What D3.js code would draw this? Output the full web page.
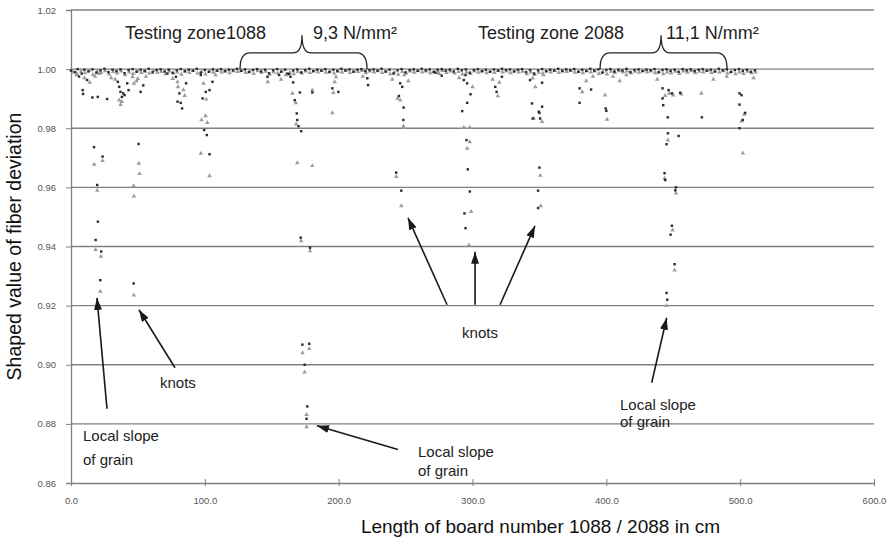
<!DOCTYPE html>
<html>
<head>
<meta charset="utf-8">
<script src="https://cdn.jsdelivr.net/npm/d3@7"></script>
<style>
  body { margin: 0; background: #fff; }
  svg { display: block; font-family: "Liberation Sans", Arial, sans-serif; }
</style>
</head>
<body>
<div id="chart"></div>
<script>
// axis ticks
var xTicks = [0, 100, 200, 300, 400, 500, 600];
var yTicks = [0.86, 0.88, 0.90, 0.92, 0.94, 0.96, 0.98, 1.00, 1.02];

// board 1088 / 2088 : [position cm, shaped value]
// near-1.00 band, dark markers
var band1088 = [[0,0.9995],[3,0.9990],[5,1.0000],[8,0.9985],[10,0.9998],[13,0.9992],[16,0.9999],[19,0.9988],[22,0.9996],[25,1.0001],[28,0.9990],[31,0.9998],[34,0.9993],[37,0.9999],[40,0.9986],[43,0.9997],[46,1.0000],[49,0.9991],[52,0.9998],[55,0.9994],[58,1.0001],[61,0.9989],[64,0.9997],[67,0.9999],[70,0.9992],[73,0.9998],[76,0.9987],[79,0.9996],[82,1.0000],[85,0.9993],[88,0.9998],[91,0.9995],[94,1.0001],[97,0.9988],[100,0.9997],[103,0.9991],[106,0.9999],[109,0.9995],[112,1.0000],[115,0.9993],[118,0.9998],[121,0.9996],[124,1.0001],[127,0.9994],[130,0.9999],[133,0.9990],[136,0.9997],[139,1.0000],[142,0.9992],[145,0.9998],[148,0.9986],[151,0.9996],[154,1.0000],[157,0.9991],[160,0.9998],[163,0.9983],[166,0.9995],[169,0.9999],[172,0.9989],[175,0.9997],[178,1.0001],[181,0.9993],[184,0.9998],[187,0.9995],[190,1.0000],[193,0.9990],[196,0.9998],[199,0.9994],[202,1.0001],[205,0.9996],[208,0.9999],[211,0.9991],[214,0.9998],[217,1.0000],[220,0.9993],[223,0.9997],[226,0.9999],[229,0.9995],[232,1.0001],[235,0.9992],[238,0.9998],[241,0.9985],[244,0.9996],[247,1.0000],[250,0.9989],[253,0.9997],[256,0.9999],[259,0.9994],[262,1.0001],[265,0.9996],[268,0.9999],[271,0.9990],[274,0.9998],[277,1.0000],[280,0.9995],[283,0.9998],[286,0.9992],[289,1.0001],[292,0.9996],[295,0.9999],[298,0.9988],[301,0.9997],[304,1.0000],[307,0.9993],[310,0.9998],[313,0.9991],[316,0.9999],[319,0.9995],[322,1.0001],[325,0.9997],[328,0.9999],[331,0.9992],[334,0.9998],[337,1.0000],[340,0.9990],[343,0.9997],[346,0.9985],[349,0.9996],[352,1.0000],[355,0.9993],[358,0.9998],[361,0.9995],[364,1.0001],[367,0.9994],[370,0.9999],[373,0.9996],[376,1.0000],[379,0.9991],[382,0.9998],[385,0.9994],[388,1.0001],[391,0.9995],[394,0.9999],[397,0.9988],[400,0.9997],[403,1.0000],[406,0.9992],[409,0.9998],[412,0.9995],[415,1.0001],[418,0.9990],[421,0.9997],[424,0.9999],[427,0.9993],[430,0.9998],[433,0.9996],[436,1.0000],[439,0.9989],[442,0.9997],[445,0.9999],[448,0.9994],[451,0.9998],[454,0.9991],[457,1.0000],[460,0.9996],[463,0.9999],[466,0.9993],[469,0.9998],[472,1.0000],[475,0.9995],[478,0.9998],[481,0.9992],[484,1.0001],[487,0.9996],[490,0.9999],[493,0.9990],[496,0.9997],[499,1.0000],[502,0.9994],[505,0.9998],[508,0.9991],[511,0.9996]];

// deviations below the band, dark markers
var dips1088 = [[6,0.9975],[8.7,0.9929],[9,0.9916],[16,0.9904],[12,0.9963],[20,0.9906],[27,0.9899],[35,0.9957],[36,0.9940],[37,0.9923],[38,0.9906],[39,0.9918],[40,0.9912],[42,0.9952],[43,0.9929],[52,0.9923],[54,0.9945],
  [17.2,0.9736],[23.6,0.9704],[50.5,0.9747],[19.6,0.9608],[20.1,0.9484],[18.4,0.9422],[22.6,0.9383],[21.9,0.9286],[46.8,0.9275],
  [72,0.9985],[78.4,0.9974],[79.6,0.9890],[81,0.9918],[82,0.9886],[83,0.9867],[86,0.9952],[97,0.9980],[98.3,0.9901],[100.7,0.9923],[103.5,0.9929],[99.5,0.9794],[101.5,0.9777],[103.5,0.9712],[105.7,0.9957],
  [146.8,0.9974],[155.5,0.9980],[161.7,0.9985],[164,0.9974],[166,0.9955],[171,0.9921],[167.2,0.9895],[168.7,0.9850],[169,0.9828],[170,0.9807],[172,0.9790],[180.3,0.9921],[195.3,0.9935],[199.8,0.9923],[171.6,0.9430],[178.6,0.9396],[172.9,0.9068],[178,0.9071],[174.6,0.9000],[176.6,0.8859],[176,0.8817],
  [221.4,0.9969],[222,0.9946],[245,0.9909],[246,0.9952],[247.5,0.9940],[248.5,0.9870],[248.3,0.9828],[243,0.9650],[246.8,0.9589],
  [272.4,0.9988],[277,0.9978],[293.5,0.9963],[294.8,0.9980],[296,0.9952],[298.5,0.9915],[296,0.9886],[292.3,0.9858],[295.5,0.9760],[296.5,0.9661],[298,0.9586],[294,0.9512],[294.8,0.9462],[317,0.9940],[318,0.9923],[322,0.9974],
  [343,0.9963],[344.5,0.9884],[345,0.9833],[349.5,0.9856],[350.5,0.9833],[352,0.9873],[350,0.9852],[350,0.9667],[349,0.9589],[349,0.9530],[352,0.9954],[380,0.9935],[388.6,0.9931],[380,0.9886],
  [399.5,0.9867],[400,0.9859],[442,0.9935],[446.5,0.9929],[449,0.9918],[455.2,0.9920],[442,0.9901],[442.5,0.9878],[445.9,0.9837],[446,0.9783],[454,0.9774],[471.4,0.9837],[499.5,0.9918],[501,0.9912],[499.5,0.9880],[503.7,0.9852],[502,0.9828],[499.5,0.9800],
  [445,0.9746],[443.5,0.9648],[444,0.9625],[452,0.9600],[451.5,0.9590],[449,0.9470],[448,0.9440],[451,0.9340],[445,0.9243],[445.5,0.9220]];

// near-1.00 band, grey markers
var band2088 = [[1.5,0.9990],[4.5,0.9984],[7.5,0.9993],[10.5,0.9987],[13.5,0.9995],[16.5,0.9981],[19.5,0.9992],[22.5,0.9988],[25.5,0.9994],[28.5,0.9983],[31.5,0.9991],[34.5,0.9986],[37.5,0.9993],[40.5,0.9980],[43.5,0.9990],[46.5,0.9985],[49.5,0.9994],[52.5,0.9988],[55.5,0.9992],[58.5,0.9986],[61.5,0.9995],[64.5,0.9989],[67.5,0.9991],[70.5,0.9984],[73.5,0.9993],[76.5,0.9987],[79.5,0.9990],[82.5,0.9982],[85.5,0.9992],[88.5,0.9988],[91.5,0.9995],[94.5,0.9986],[97.5,0.9991],[100.5,0.9983],[103.5,0.9993],[106.5,0.9989],[109.5,0.9995],[112.5,0.9990],[115.5,0.9993],[118.5,0.9987],[121.5,0.9994],[124.5,0.9991],[127.5,0.9995],[130.5,0.9988],[133.5,0.9992],[136.5,0.9985],[139.5,0.9994],[142.5,0.9989],[145.5,0.9992],[148.5,0.9982],[151.5,0.9990],[154.5,0.9986],[157.5,0.9993],[160.5,0.9980],[163.5,0.9989],[166.5,0.9984],[169.5,0.9991],[172.5,0.9986],[175.5,0.9993],[178.5,0.9988],[181.5,0.9994],[184.5,0.9990],[187.5,0.9995],[190.5,0.9989],[193.5,0.9993],[196.5,0.9986],[199.5,0.9992],[202.5,0.9990],[205.5,0.9995],[208.5,0.9988],[211.5,0.9993],[214.5,0.9991],[217.5,0.9995],[220.5,0.9987],[223.5,0.9993],[226.5,0.9990],[229.5,0.9994],[232.5,0.9988],[235.5,0.9992],[238.5,0.9984],[241.5,0.9990],[244.5,0.9982],[247.5,0.9991],[250.5,0.9986],[253.5,0.9993],[256.5,0.9989],[259.5,0.9995],[262.5,0.9990],[265.5,0.9993],[268.5,0.9987],[271.5,0.9992],[274.5,0.9990],[277.5,0.9995],[280.5,0.9988],[283.5,0.9993],[286.5,0.9986],[289.5,0.9991],[292.5,0.9983],[295.5,0.9990],[298.5,0.9985],[301.5,0.9993],[304.5,0.9989],[307.5,0.9994],[310.5,0.9987],[313.5,0.9992],[316.5,0.9988],[319.5,0.9995],[322.5,0.9990],[325.5,0.9993],[328.5,0.9987],[331.5,0.9994],[334.5,0.9990],[337.5,0.9992],[340.5,0.9984],[343.5,0.9990],[346.5,0.9981],[349.5,0.9989],[352.5,0.9986],[355.5,0.9993],[358.5,0.9990],[361.5,0.9995],[364.5,0.9988],[367.5,0.9993],[370.5,0.9991],[373.5,0.9995],[376.5,0.9989],[379.5,0.9992],[382.5,0.9987],[385.5,0.9994],[388.5,0.9990],[391.5,0.9993],[394.5,0.9985],[397.5,0.9991],[400.5,0.9983],[403.5,0.9992],[406.5,0.9988],[409.5,0.9994],[412.5,0.9990],[415.5,0.9993],[418.5,0.9986],[421.5,0.9992],[424.5,0.9989],[427.5,0.9995],[430.5,0.9990],[433.5,0.9993],[436.5,0.9987],[439.5,0.9991],[442.5,0.9984],[445.5,0.9990],[448.5,0.9986],[451.5,0.9992],[454.5,0.9985],[457.5,0.9993],[460.5,0.9989],[463.5,0.9994],[466.5,0.9987],[469.5,0.9992],[472.5,0.9990],[475.5,0.9995],[478.5,0.9988],[481.5,0.9993],[484.5,0.9990],[487.5,0.9994],[490.5,0.9986],[493.5,0.9991],[496.5,0.9984],[499.5,0.9990],[502.5,0.9985],[505.5,0.9992],[508.5,0.9987],[511.5,0.9990]];

// deviations below the band, grey markers
var dips2088 = [[4,0.9980],[10,0.9970],[14,0.9955],[18,0.9975],[21,0.9985],[30,0.9970],[33,0.9965],[36,0.9895],[37,0.9880],[38,0.9890],[46,0.9974],[47,0.9952],[49,0.9960],[50,0.9968],[56,0.9975],
  [17.3,0.9678],[23.6,0.9690],[50.7,0.9681],[51.2,0.9646],[19.6,0.9590],[46.8,0.9605],[47,0.9570],[18.4,0.9389],[22.4,0.9366],[21.9,0.9248],[47,0.9235],
  [76,0.9968],[79.6,0.9957],[80,0.9940],[84,0.9930],[85,0.9910],[99,0.9952],[101,0.9898],[97.5,0.9828],[100.5,0.9842],[101.8,0.9819],[97,0.9715],[103.5,0.9639],[108,0.9980],
  [147,0.9957],[157,0.9965],[165.4,0.9918],[168,0.9886],[168.2,0.9814],[169,0.9683],[180.3,0.9673],[180.3,0.9929],[196,0.9920],[197,0.9957],[198,0.9974],[195.3,0.9852],[172,0.9419],[178.6,0.9385],[173,0.9040],[178,0.9054],[174.6,0.8975],[176,0.8831],[176,0.8790],
  [218,0.9975],[244,0.9901],[246,0.9895],[249,0.9980],[248.5,0.9807],[248.3,0.9803],[243,0.9636],[246.8,0.9537],[240,0.9965],[252,0.9960],
  [275,0.9985],[290,0.9970],[293.5,0.9803],[298,0.9803],[298,0.9754],[296,0.9732],[299,0.9518],[297.3,0.9405],[319,0.9909],[320,0.9955],[315,0.9965],[300,0.9940],
  [345,0.9969],[347,0.9940],[353,0.9980],[345.8,0.9833],[352,0.9822],[350.7,0.9640],[351,0.9537],[382,0.9923],[385,0.9960],[390,0.9975],[400.5,0.9830],[399,0.9912],
  [405,0.9975],[410,0.9960],[415,0.9980],[438,0.9965],[444,0.9910],[447,0.9918],[450,0.9912],[456,0.9915],[471,0.9918],[480,0.9965],[490,0.9975],[503,0.9847],[501,0.9824],[502,0.9716],
  [446,0.9760],[443.5,0.9630],[452,0.9580],[449.5,0.9455],[451,0.9320],[445,0.9200],[510,0.9970]];

var width = 894, height = 543;
var x = d3.scaleLinear().domain([0, 600]).range([71, 874]);
var y = d3.scaleLinear().domain([0.86, 1.02]).range([483, 10]);

var svg = d3.select("#chart").append("svg")
    .attr("width", width)
    .attr("height", height);

svg.append("defs").append("marker")
    .attr("id", "head")
    .attr("viewBox", "0 0 12 8")
    .attr("refX", 12).attr("refY", 4)
    .attr("markerWidth", 12).attr("markerHeight", 8)
    .attr("markerUnits", "userSpaceOnUse")
    .attr("orient", "auto")
  .append("path")
    .attr("d", "M0,0L12,4L0,8Z")
    .attr("fill", "#1a1a1a");

// gridlines
svg.append("g").selectAll("line")
    .data(yTicks.slice(1))
    .enter().append("line")
    .attr("x1", x(0)).attr("x2", x(600))
    .attr("y1", function(d) { return y(d); })
    .attr("y2", function(d) { return y(d); })
    .attr("stroke", "#808080")
    .attr("stroke-width", 1.3);

// y axis
var yAxis = svg.append("g")
    .attr("transform", "translate(" + x(0) + ",0)")
    .call(d3.axisLeft(y).tickValues(yTicks).tickFormat(d3.format(".2f")).tickSize(5).tickPadding(10));
yAxis.select(".domain").attr("stroke", "#808080").attr("stroke-width", 1.3);
yAxis.selectAll(".tick line").attr("stroke", "#808080");
yAxis.selectAll("text").attr("font-size", 9.5).attr("fill", "#555");

// x axis
var xAxis = svg.append("g")
    .attr("transform", "translate(0," + y(0.86) + ")")
    .call(d3.axisBottom(x).tickValues(xTicks).tickFormat(d3.format(".1f")).tickSizeInner(-4).tickSizeOuter(0).tickPadding(14));
xAxis.select(".domain").attr("stroke", "#808080").attr("stroke-width", 1.3);
xAxis.selectAll(".tick line").attr("stroke", "#808080").attr("y2", 3).attr("y1", -4);
xAxis.selectAll("text").attr("font-size", 9.5).attr("fill", "#555");

// markers
var tri = d3.symbol().type(d3.symbolTriangle).size(9);
var sq = d3.symbol().type(d3.symbolSquare).size(6);

svg.append("g").selectAll("path")
    .data(band2088.concat(dips2088))
    .enter().append("path")
    .attr("d", tri)
    .attr("transform", function(d) { return "translate(" + x(d[0]) + "," + y(d[1]) + ")"; })
    .attr("fill", "#9c9c9c");

svg.append("g").selectAll("path")
    .data(band1088.concat(dips1088))
    .enter().append("path")
    .attr("d", sq)
    .attr("transform", function(d) { return "translate(" + x(d[0]) + "," + y(d[1]) + ")"; })
    .attr("fill", "#2e2e2e");

// axis titles
svg.append("text")
    .attr("transform", "translate(21," + y(0.94) + ") rotate(-90)")
    .attr("text-anchor", "middle")
    .attr("font-size", 19.5)
    .attr("fill", "#111")
    .text("Shaped value of fiber deviation");

svg.append("text")
    .attr("x", x(300) + 68).attr("y", 533)
    .attr("text-anchor", "middle")
    .attr("font-size", 19)
    .attr("fill", "#111")
    .text("Length of board number 1088 / 2088 in cm");

// testing zone braces
function brace(a, m, b) {
  var x1 = x(a), xm = x(m), x2 = x(b);
  var yf = y(1.0), ys = y(1.0055), yt = y(1.0115);
  return "M" + x1 + "," + yf +
    "Q" + x1 + "," + ys + " " + (x1 + 10) + "," + ys +
    "L" + (xm - 9) + "," + ys +
    "Q" + xm + "," + ys + " " + xm + "," + yt +
    "Q" + xm + "," + ys + " " + (xm + 9) + "," + ys +
    "L" + (x2 - 10) + "," + ys +
    "Q" + x2 + "," + ys + " " + x2 + "," + yf;
}
svg.append("path").attr("d", brace(126.3, 172.6, 221.2))
    .attr("fill", "none").attr("stroke", "#222").attr("stroke-width", 1.3);
svg.append("path").attr("d", brace(395.3, 440.9, 490.2))
    .attr("fill", "none").attr("stroke", "#222").attr("stroke-width", 1.3);

var topLabels = [
  { t: "Testing zone1088", cm: 40.3 },
  { t: "9,3 N/mm²", cm: 180.8 },
  { t: "Testing zone 2088", cm: 304.1 },
  { t: "11,1 N/mm²", cm: 444.6 }
];
svg.append("g").selectAll("text")
    .data(topLabels)
    .enter().append("text")
    .attr("x", function(d) { return x(d.cm); })
    .attr("y", y(1.0101))
    .attr("font-size", 18)
    .attr("fill", "#222")
    .text(function(d) { return d.t; });

// notes and arrows
var notes = [
  { t: "Local slope", cm: 9.0, v: 0.8742 },
  { t: "of grain", cm: 9.0, v: 0.8662 },
  { t: "knots", cm: 66.5, v: 0.8922 },
  { t: "Local slope", cm: 259.3, v: 0.8689 },
  { t: "of grain", cm: 259.3, v: 0.8624 },
  { t: "knots", cm: 292.2, v: 0.9091 },
  { t: "Local slope", cm: 410.2, v: 0.8848 },
  { t: "of grain", cm: 410.2, v: 0.8791 }
];
svg.append("g").selectAll("text")
    .data(notes)
    .enter().append("text")
    .attr("x", function(d) { return x(d.cm); })
    .attr("y", function(d) { return y(d.v); })
    .attr("font-size", 15)
    .attr("fill", "#222")
    .text(function(d) { return d.t; });

var arrows = [
  [26.9, 0.8851, 19.4, 0.9226],
  [77.7, 0.8990, 50.8, 0.9186],
  [244.3, 0.8713, 183.8, 0.8794],
  [281.0, 0.9203, 251.8, 0.9497],
  [301.9, 0.9203, 301.9, 0.9382],
  [320.6, 0.9203, 346.7, 0.9470],
  [433.9, 0.8939, 445.1, 0.9159]
];
svg.append("g").selectAll("line")
    .data(arrows)
    .enter().append("line")
    .attr("x1", function(d) { return x(d[0]); })
    .attr("y1", function(d) { return y(d[1]); })
    .attr("x2", function(d) { return x(d[2]); })
    .attr("y2", function(d) { return y(d[3]); })
    .attr("stroke", "#1a1a1a")
    .attr("stroke-width", 1.6)
    .attr("marker-end", "url(#head)");
</script>
</body>
</html>
